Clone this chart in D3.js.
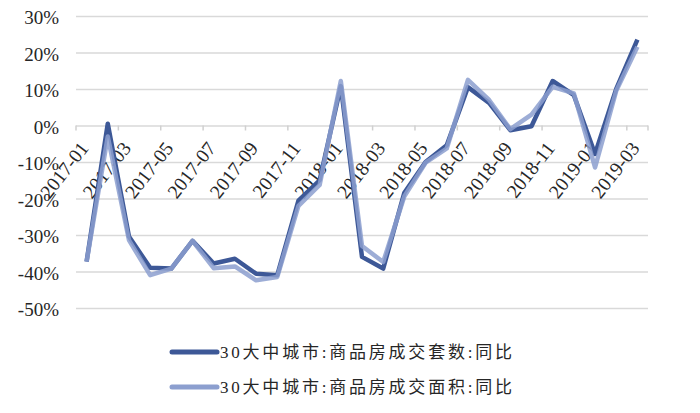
<!DOCTYPE html>
<html>
<head>
<meta charset="utf-8">
<script src="https://d3js.org/d3.v7.min.js"></script>
<style>
  body { margin: 0; background: #fff; }
  text { font-family: "Liberation Serif", "Noto Sans CJK SC", serif; fill: #262626; }
</style>
</head>
<body>
<div id="chart"></div>
<script>
// months on the x axis
var months = ["2017-01","2017-02","2017-03","2017-04","2017-05","2017-06","2017-07","2017-08","2017-09",
              "2017-10","2017-11","2017-12","2018-01","2018-02","2018-03","2018-04","2018-05","2018-06",
              "2018-07","2018-08","2018-09","2018-10","2018-11","2018-12","2019-01","2019-02","2019-03"];
// 30大中城市:商品房成交套数:同比 (%)
var countYoY = [-37.3, 0.5, -30.4, -39.0, -39.2, -31.6, -37.8, -36.5, -40.6, -41.0, -20.6, -15.0, 10.8,
                -36.0, -39.2, -18.4, -10.0, -5.4, 10.5, 6.2, -1.3, -0.2, 12.2, 8.3, -7.8, 10.0, 23.5];
// 30大中城市:商品房成交面积:同比 (%)
var areaYoY  = [-37.3, -3.0, -31.4, -41.0, -39.2, -31.6, -39.1, -38.6, -42.4, -41.5, -22.0, -16.3, 12.2,
                -33.0, -37.4, -19.4, -10.2, -6.3, 12.5, 7.0, -1.0, 3.0, 10.6, 8.8, -11.5, 9.5, 21.6];
var yTicks = [30, 20, 10, 0, -10, -20, -30, -40, -50];
var seriesNames = ["30大中城市:商品房成交套数:同比", "30大中城市:商品房成交面积:同比"];
var colors = ["#3d5897", "#8c9fcf"];

var w = 700, h = 413;
var plotLeft = 76, plotRight = 648, plotTop = 16, plotBottom = 308;

var svg = d3.select("#chart").append("svg")
    .attr("width", w)
    .attr("height", h);

var x = d3.scaleBand().domain(months).range([plotLeft, plotRight]).padding(0);
var y = d3.scaleLinear().domain([-50, 30]).range([plotBottom, plotTop]);

// y axis + gridlines
var yAxis = svg.append("g")
    .attr("transform", "translate(" + plotLeft + ",0)")
    .call(d3.axisLeft(y).tickValues(yTicks).tickSize(-(plotRight - plotLeft)).tickPadding(17)
          .tickFormat(function(d) { return d + "%"; }));
yAxis.select(".domain").remove();
yAxis.selectAll("line").attr("stroke", "#d9d9d9").attr("stroke-width", 1.5);
yAxis.selectAll("text").attr("font-size", 19).attr("dy", "0.4em")
    .attr("font-family", "Liberation Serif").attr("fill", "#262626");

// category ticks on the 0% line, every second month
var tickMonths = months.filter(function(d, i) { return i % 2 == 0; });
svg.append("g").selectAll("line")
    .data(tickMonths.concat(["end"]))
    .enter().append("line")
    .attr("x1", function(d) { return d == "end" ? plotRight : x(d); })
    .attr("x2", function(d) { return d == "end" ? plotRight : x(d); })
    .attr("y1", y(0))
    .attr("y2", y(0) + 5)
    .attr("stroke", "#d0d0d0")
    .attr("stroke-width", 1.5);

// x labels rotated
svg.append("g").selectAll("text")
    .data(tickMonths)
    .enter().append("text")
    .attr("transform", function(d) {
        return "translate(" + (x(d) + x.bandwidth() / 2 + 3) + "," + (y(0) + 23) + ") rotate(-52)";
    })
    .attr("text-anchor", "end")
    .attr("font-size", 19.5)
    .text(function(d) { return d; });

// lines
var line = d3.line()
    .x(function(d, i) { return x(months[i]) + x.bandwidth() / 2; })
    .y(function(d) { return y(d); });

svg.append("path")
    .datum(countYoY)
    .attr("fill", "none")
    .attr("stroke", colors[0])
    .attr("stroke-width", 4.5)
    .attr("stroke-linejoin", "round")
    .attr("d", line);

svg.append("path")
    .datum(areaYoY)
    .attr("fill", "none")
    .attr("stroke", colors[1])
    .attr("stroke-width", 4.5)
    .attr("stroke-opacity", 0.85)
    .attr("stroke-linejoin", "round")
    .attr("d", line);

// legend
var legend = svg.append("g").selectAll("g")
    .data(seriesNames)
    .enter().append("g")
    .attr("transform", function(d, i) { return "translate(172," + (352 + i * 35) + ")"; });

legend.append("line")
    .attr("x1", 0).attr("x2", 45)
    .attr("stroke", function(d, i) { return colors[i]; })
    .attr("stroke-width", 5)
    .attr("stroke-linecap", "round");

legend.append("text")
    .attr("x", 48)
    .attr("dy", "0.35em")
    .attr("font-size", 17)
    .attr("textLength", 292)
    .attr("lengthAdjust", "spacing")
    .text(function(d) { return d; });
</script>
</body>
</html>
